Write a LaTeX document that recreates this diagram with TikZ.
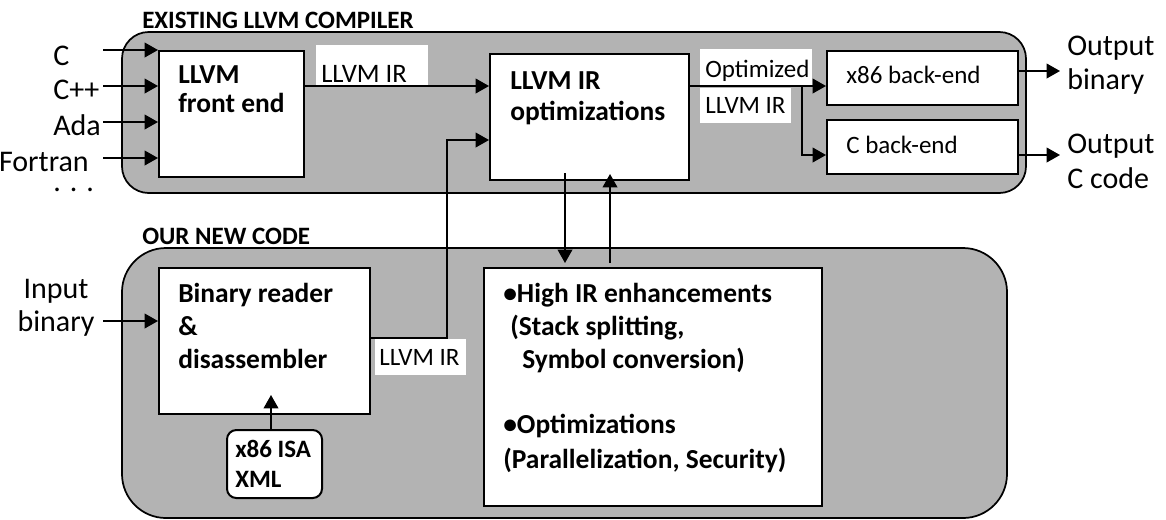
\documentclass[tikz,border=0pt]{standalone}
\usepackage{fontspec}
\setmainfont{Carlito}
\usetikzlibrary{arrows.meta,calc}
\definecolor{grp}{RGB}{179,179,179}
\tikzset{
  grpbox/.style={draw=black, line width=1.3pt, fill=grp},
  wbox/.style={draw=black, line width=1.5pt, fill=white, inner sep=0pt, anchor=north west},
  lblbox/.style={fill=white, inner sep=0pt, anchor=north west},
  txt/.style={inner sep=0pt, anchor=base west, font=\fontsize{18.75}{22}\selectfont},
  ttxt/.style={inner sep=0pt, anchor=base west, font=\fontsize{18.75}{22}\selectfont\bfseries},
  btxt/.style={inner sep=0pt, anchor=base west, font=\fontsize{20.6}{24}\selectfont\bfseries},
  big/.style={inner sep=0pt, anchor=base west, font=\fontsize{22.5}{26}\selectfont},
  conn/.style={line width=1.2pt},
  arr/.style={line width=1.2pt, -{Triangle[length=10pt,width=11pt]}}
}
\newcommand{\mkbox}[6]{\node[#6, minimum width={(#4-#2)*0.75pt}, minimum height={(#5-#3)*0.75pt}] (#1) at (#2,#3) {};}
\begin{document}
\begin{tikzpicture}[x=0.75pt,y=-0.75pt]
\useasboundingbox (0,0) rectangle (1166,519);
% group boxes
\draw[grpbox, rounded corners=20pt] (122,32) rectangle (1026,193);
\draw[grpbox, rounded corners=33pt] (122,248) rectangle (1007,518);
\node[ttxt] (t1) at (142,28) {EXISTING LLVM COMPILER};
\node[ttxt] (t2) at (142,244) {OUR NEW CODE};
% top boxes
\mkbox{fe}{158}{50}{303}{176}{wbox}
\node[btxt] (fe1) at (178,83) {LLVM};
\node[btxt] (fe2) at (178,112) {front end};
\mkbox{opt}{489}{53}{688}{179}{wbox}
\node[btxt] (op1) at (510,89) {LLVM IR};
\node[btxt] (op2) at (510,120) {optimizations};
\mkbox{x86}{826}{50}{1017}{104}{wbox}
\node[txt] (x861) at (846,83) {x86 back-end};
\mkbox{cb}{826}{119}{1017}{173}{wbox}
\node[txt] (cb1) at (846,153) {C back-end};
% labels
\mkbox{lb1}{316}{45}{428}{85}{lblbox}
\node[txt, font=\fontsize{20}{22}\selectfont] (lt1) at (321,82) {LLVM IR};
\mkbox{lb2}{700}{49}{812}{85}{lblbox}
\node[txt] (lt2) at (705,77) {Optimized};
\mkbox{lb3}{700}{88}{791}{123}{lblbox}
\node[txt] (lt3) at (705,113) {LLVM IR};
% inputs
\node[big] (inC) at (53,65) {C};
\node[big] (inCpp) at (53,99) {C++};
\node[big] (inAda) at (53,135) {Ada};
\node[big, anchor=base east] (inF) at (89,171) {Fortran};
\node[big] (inDots) at (53,191) {. . .};
\coordinate (aC) at (103,50);
\coordinate (aCpp) at (103,86);
\coordinate (aAda) at (103,122);
\coordinate (aF) at (103,158);
\draw[arr] (aC) -- (aC -| fe.west);
\draw[arr] (aCpp) -- (aCpp -| fe.west);
\draw[arr] (aAda) -- (aAda -| fe.west);
\draw[arr] (aF) -- (aF -| fe.west);
% outputs
\node[big] (ob1) at (1067,55) {Output};
\node[big] (ob2) at (1067,89) {binary};
\node[big] (oc1) at (1067,153) {Output};
\node[big] (oc2) at (1067,188) {C code};
\coordinate (eb) at (1060,71);
\coordinate (ec) at (1060,155);
\draw[arr] (eb -| x86.east) -- (eb);
\draw[arr] (ec -| cb.east) -- (ec);
% front end -> opt
\draw[arr] (fe.east |- 0,86) -- (opt.west |- 0,86);
% opt -> back ends
\coordinate (sp) at (802,86);
\draw[conn] (opt.east |- sp) -- (sp);
\draw[arr] (sp) -- (sp -| x86.west);
\draw[arr] (sp) |- (cb.west |- 0,155);
% bottom boxes
\mkbox{br}{158}{267}{369}{413}{wbox}
\node[btxt] (br1) at (178,302) {Binary reader};
\node[btxt] (br2) at (178,335) {\&};
\node[btxt] (br3) at (178,368) {disassembler};
\mkbox{xml}{226}{429}{321}{497}{wbox, rounded corners=7pt}
\node[ttxt] (xm1) at (235,457) {x86 ISA};
\node[ttxt] (xm2) at (235,487) {XML};
\mkbox{hir}{483}{267}{821}{505}{wbox}
\node[btxt] (h1) at (503,302) {•High IR enhancements};
\node[btxt] (h2) at (510,335) {(Stack splitting,};
\node[btxt] (h3) at (522,368) {Symbol conversion)};
\node[btxt] (h4) at (503,433) {•Optimizations};
\node[btxt] (h5) at (503,468) {(Parallelization, Security)};
\mkbox{lb4}{375}{339}{466}{375}{lblbox}
\node[txt] (lt4) at (379,365) {LLVM IR};
% input binary
\node[big, anchor=base] (ib1) at (56,298) {Input};
\node[big, anchor=base] (ib2) at (56,331) {binary};
\coordinate (aIb) at (103,321);
\draw[arr] (aIb) -- (aIb -| br.west);
% xml -> br
\coordinate (xt) at (271,395);
\draw[arr] (xml.north -| xt) -- (xt);
% br -> opt
\coordinate (k1) at (447,338);
\draw[arr] (br.east |- k1) -- (k1) |- (opt.west |- 0,140);
% opt <-> hir
\coordinate (d1) at (565,173);
\coordinate (d2) at (565,263);
\draw[arr] (d1) -- (d2);
\coordinate (u1) at (610,263);
\coordinate (u2) at (610,174);
\draw[arr] (u1) -- (u2);
\end{tikzpicture}
\end{document}
